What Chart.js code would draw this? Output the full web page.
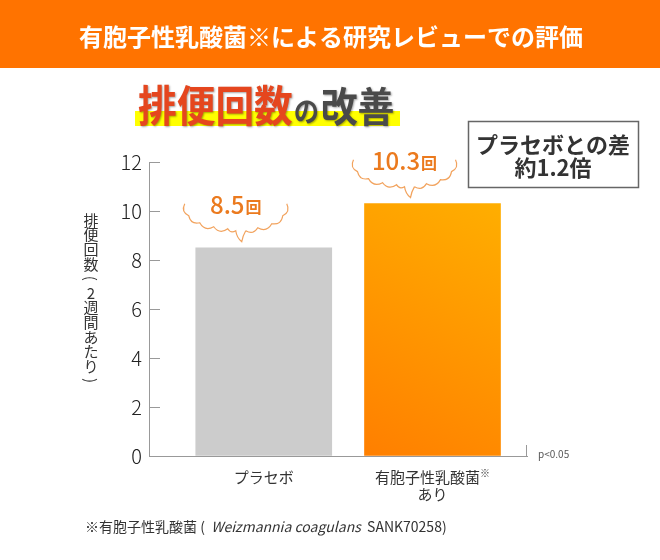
<!DOCTYPE html>
<html lang="ja">

<head>
    <meta charset="UTF-8">
    <title>排便回数の改善</title>
    <style>
        body { margin: 0; background: #fff; }
        #wrap { width: 660px; height: 560px; }
    </style>
</head>

<body>
    <div id="wrap">
        <canvas id="myChart" width="660" height="560" role="img" aria-label="排便回数の改善"></canvas>
    </div>
    <script src="https://cdn.jsdelivr.net/npm/chart.js"></script>
    <script>
        // データ
        const categories = [['プラセボ'], ['有胞子性乳酸菌', 'あり']];
        const categoryMarks = ['', '※'];
        const values = [8.5, 10.3];
        const valueUnit = '回';
        const yTicks = [0, 2, 4, 6, 8, 10, 12];
        const barColors = ['#CCCCCC', 'gradient'];

        const JP = '"Noto Sans CJK JP", "Noto Sans", sans-serif';

        function orangeFill(ctx) {
            const chart = ctx.chart;
            if (!chart.chartArea || !chart.scales.x) return '#FF9500';
            const xs = chart.scales.x, ys = chart.scales.y;
            const cx = xs.getPixelForValue(ctx.dataIndex + 1);
            const top = ys.getPixelForValue(values[ctx.dataIndex]);
            const g = chart.ctx.createLinearGradient(cx + 68, top, cx - 68, ys.bottom);
            g.addColorStop(0, '#FFAE00');
            g.addColorStop(1, '#FF7F00');
            return g;
        }

        // 吹き出し(雲形)
        function drawCloud(c, tx, ty) {
            const cx = tx - 6;
            const C = { x: cx, y: ty - 30 };
            const left = [[-51, -38], [-47, -26], [-36, -19], [-22, -15], [-8, -13], [0, -11]];
            const right = [[10, -11], [22, -14], [36, -18], [47, -26], [51, -38]];
            c.save();
            c.strokeStyle = '#F2A35E';
            c.lineWidth = 1.2;
            c.beginPath();
            const bump = (pts) => {
                c.moveTo(cx + pts[0][0], ty + pts[0][1]);
                for (let i = 1; i < pts.length; i++) {
                    const ax = cx + pts[i - 1][0], ay = ty + pts[i - 1][1];
                    const bx = cx + pts[i][0], by = ty + pts[i][1];
                    const mx = (ax + bx) / 2, my = (ay + by) / 2;
                    let nx = by - ay, ny = -(bx - ax);
                    const len = Math.hypot(nx, ny);
                    nx /= len; ny /= len;
                    if (nx * (mx - C.x) + ny * (my - C.y) < 0) { nx = -nx; ny = -ny; }
                    const k = len * 0.5;
                    c.quadraticCurveTo(mx + nx * k, my + ny * k, bx, by);
                }
            };
            bump(left);
            // しっぽ
            c.quadraticCurveTo(cx + 1, ty - 4, tx, ty);
            c.quadraticCurveTo(cx + 7, ty - 6, cx + 10, ty - 11);
            bump(right);
            c.stroke();
            c.restore();
        }

        const decor = {
            id: 'decor',
            beforeDraw(chart) {
                const c = chart.ctx;
                c.save();
                c.fillStyle = '#fff';
                c.fillRect(0, 0, chart.width, chart.height);

                // ヘッダー
                c.fillStyle = '#FF7300';
                c.fillRect(0, 0, chart.width, 68);
                c.fillStyle = '#fff';
                c.font = 'bold 24px ' + JP;
                c.textAlign = 'center';
                c.textBaseline = 'middle';
                c.fillText('有胞子性乳酸菌※による研究レビューでの評価', 331, 37);

                // 見出し
                c.fillStyle = '#FFFF00';
                c.fillRect(135, 111, 265, 15);
                c.save();
                c.translate(138, 0);
                c.scale(0.9, 1);
                c.textAlign = 'left';
                c.textBaseline = 'alphabetic';
                c.shadowColor = 'rgba(0,0,0,0.35)';
                c.shadowBlur = 2;
                c.shadowOffsetX = 1;
                c.shadowOffsetY = 1;
                let x = 0;
                c.font = 'bold 43px ' + JP;
                c.fillStyle = '#E5461E';
                c.fillText('排便回数', x, 122);
                x += c.measureText('排便回数').width + 1;
                c.font = 'bold 28px ' + JP;
                c.fillStyle = '#4A4A4A';
                c.fillText('の', x, 122);
                x += c.measureText('の').width + 2;
                c.font = 'bold 41px ' + JP;
                c.fillText('改善', x, 122);
                c.restore();

                // 差のボックス
                c.strokeStyle = '#666';
                c.lineWidth = 1.5;
                c.strokeRect(468.5, 121.5, 170, 66);
                c.fillStyle = '#333';
                c.font = 'bold 22px ' + JP;
                c.textAlign = 'center';
                c.textBaseline = 'middle';
                c.fillText('プラセボとの差', 553, 145);
                c.fillText('約1.2倍', 553, 168);

                // 縦書きの軸タイトル
                const title = ['排', '便', '回', '数', '(', '2', '週', '間', 'あ', 'た', 'り', ')'];
                c.font = '15px ' + JP;
                c.fillStyle = '#333';
                title.forEach((ch, i) => {
                    const y = 220 + i * 14.6;
                    if (ch === '(' || ch === ')') {
                        c.save();
                        c.translate(91, y);
                        c.rotate(Math.PI / 2);
                        c.fillText(ch, 0, 0);
                        c.restore();
                    } else {
                        c.fillText(ch, 91, y);
                    }
                });
                c.restore();
            },
            afterDraw(chart) {
                const c = chart.ctx;
                const xs = chart.scales.x, ys = chart.scales.y;
                const meta = chart.getDatasetMeta(0);
                c.save();

                // 目盛り(内向き)
                c.strokeStyle = '#999';
                c.lineWidth = 1;
                ys.ticks.forEach(t => {
                    const y = Math.round(ys.getPixelForValue(t.value)) + 0.5;
                    c.beginPath();
                    c.moveTo(xs.left, y);
                    c.lineTo(xs.left + 11, y);
                    c.stroke();
                });
                c.beginPath();
                c.moveTo(Math.round(xs.right) - 0.5, ys.bottom);
                c.lineTo(Math.round(xs.right) - 0.5, ys.bottom - 11);
                c.stroke();

                // p<0.05
                c.fillStyle = '#555';
                c.font = '10px ' + JP;
                c.textAlign = 'left';
                c.textBaseline = 'middle';
                c.fillText('p<0.05', xs.right + 11, ys.bottom - 2);

                // 吹き出しと数値
                meta.data.forEach((bar, i) => {
                    const tx = bar.x - 22;
                    const ty = bar.y - 6;
                    drawCloud(c, tx, ty);
                    const num = String(values[i]);
                    c.font = '500 24px ' + JP;
                    const w1 = c.measureText(num).width;
                    c.font = 'bold 16px ' + JP;
                    const w2 = c.measureText(valueUnit).width;
                    const sx = tx - 6 - (w1 + w2 + 1) / 2;
                    c.fillStyle = '#EB7A1E';
                    c.textAlign = 'left';
                    c.textBaseline = 'alphabetic';
                    c.font = '500 24px ' + JP;
                    c.fillText(num, sx, ty - 28);
                    c.font = 'bold 16px ' + JP;
                    c.fillText(valueUnit, sx + w1 + 1, ty - 29);
                });

                // カテゴリラベル
                c.fillStyle = '#333';
                c.textBaseline = 'middle';
                categories.forEach((lines, i) => {
                    const x = xs.getPixelForValue(i + 1);
                    lines.forEach((line, j) => {
                        const y = ys.bottom + 21 + j * 17;
                        c.font = '15px ' + JP;
                        if (j === 0 && categoryMarks[i]) {
                            const w = c.measureText(line).width;
                            c.font = '10px ' + JP;
                            const wm = c.measureText(categoryMarks[i]).width;
                            const sx = x - (w + wm) / 2;
                            c.font = '15px ' + JP;
                            c.textAlign = 'left';
                            c.fillText(line, sx, y);
                            c.font = '10px ' + JP;
                            c.fillText(categoryMarks[i], sx + w, y - 4);
                        } else {
                            c.textAlign = 'center';
                            c.fillText(line, x, y);
                        }
                    });
                });

                // 注釈
                c.textAlign = 'left';
                c.fillStyle = '#333';
                let fx = 85;
                const fy = 527;
                const parts = [
                    ['14px ' + JP, '※有胞子性乳酸菌 (  '],
                    ['italic 14px ' + JP, 'Weizmannia coagulans'],
                    ['14px ' + JP, '  SANK70258)']
                ];
                parts.forEach(([f, s]) => {
                    c.font = f;
                    c.fillText(s, fx, fy);
                    fx += c.measureText(s).width;
                });
                c.restore();
            }
        };

        const ctx1 = document.getElementById('myChart');
        const myChart = new Chart(ctx1, {
            type: 'bar',
            data: {
                datasets: [{
                    data: values.map((v, i) => ({ x: i + 1, y: v })),
                    backgroundColor: (ctx) => barColors[ctx.dataIndex] === 'gradient' ? orangeFill(ctx) : barColors[ctx.dataIndex],
                    borderWidth: 0,
                    barThickness: 136
                }]
            },
            options: {
                responsive: false,
                animation: false,
                layout: {
                    padding: { left: 89, right: 133, top: 162, bottom: 84 }
                },
                plugins: {
                    legend: { display: false },
                    tooltip: { enabled: false }
                },
                scales: {
                    x: {
                        type: 'linear',
                        min: 0.32,
                        max: 2.56,
                        offset: false,
                        grid: { display: false, drawTicks: false, offset: false },
                        border: { color: '#999', width: 1 },
                        ticks: { display: false },
                        afterFit(scale) { scale.height = 20; }
                    },
                    y: {
                        min: 0,
                        max: 12,
                        afterBuildTicks(scale) { scale.ticks = yTicks.map(v => ({ value: v })); },
                        grid: { drawOnChartArea: false, drawTicks: false },
                        border: { color: '#999', width: 1 },
                        ticks: {
                            padding: 7,
                            color: '#222',
                            font: { family: JP, size: 20, weight: '300' }
                        },
                        afterFit(scale) { scale.width = 60; }
                    }
                }
            },
            plugins: [decor]
        });
    </script>
</body>

</html>
